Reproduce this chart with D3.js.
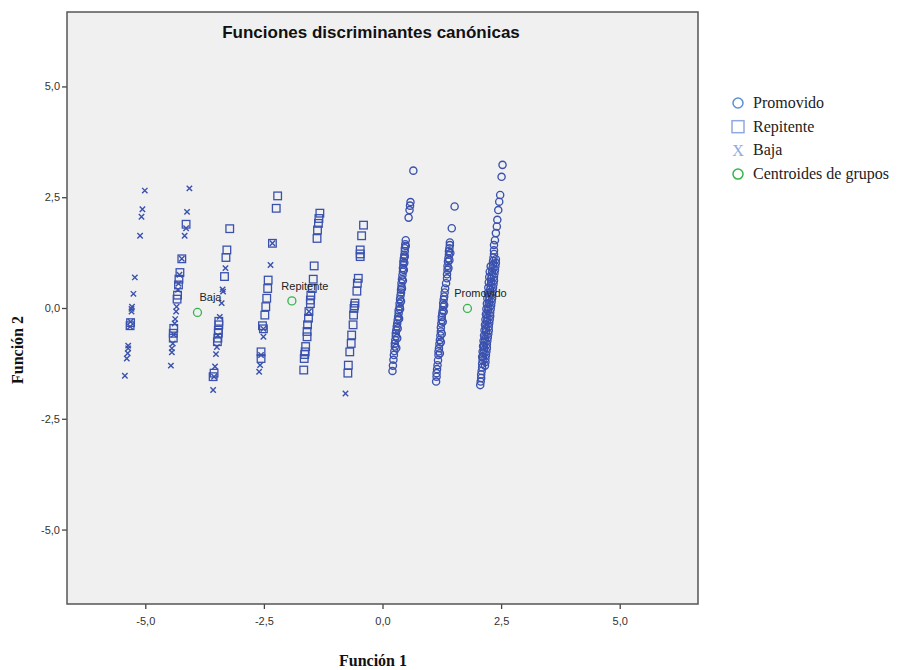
<!DOCTYPE html>
<html>
<head>
<meta charset="utf-8">
<script src="https://cdn.jsdelivr.net/npm/d3@7"></script>
<style>
  body { margin: 0; background: #fff; }
  svg { display: block; }
</style>
</head>
<body>
<div id="chart"></div>
<script>
// Dimensions
var W = 904, H = 670;
var frame = {left: 67, top: 12, right: 698, bottom: 604};

// Axes
var xTicks = [-5, -2.5, 0, 2.5, 5];
var yTicks = [-5, -2.5, 0, 2.5, 5];

// Données (Función 1, Función 2)
// Promovido -> cercles
var promovido = [
  [0.21,-1.42],[0.22,-1.30],[0.23,-1.17],[0.24,-1.06],[0.25,-0.97],[0.26,-0.87],[0.26,-0.80],[0.27,-0.72],
  [0.28,-0.64],[0.28,-0.57],[0.29,-0.50],[0.30,-0.42],[0.31,-0.35],[0.32,-0.27],[0.33,-0.20],[0.34,-0.12],
  [0.34,-0.05],[0.36,0.03],[0.36,0.10],[0.37,0.20],[0.38,0.28],[0.39,0.35],[0.39,0.41],[0.40,0.48],
  [0.40,0.56],[0.41,0.65],[0.42,0.74],[0.43,0.82],[0.43,0.90],[0.44,0.98],[0.44,1.05],[0.45,1.12],
  [0.46,1.20],[0.47,1.28],[0.47,1.35],[0.48,1.44],[0.49,1.53],[0.55,2.04],[0.57,2.21],[0.58,2.31],
  [0.59,2.39],[0.65,3.10],
  [0.29,-0.90],[0.31,-0.68],[0.32,-0.46],[0.35,-0.24],[0.37,-0.02],[0.39,0.15],[0.41,0.44],[0.43,0.62],
  [0.45,0.86],[0.46,1.02],[0.47,1.16],[0.49,1.40],
  [1.13,-1.66],[1.14,-1.55],[1.14,-1.47],[1.15,-1.38],[1.16,-1.29],[1.17,-1.18],[1.18,-1.06],[1.18,-0.98],
  [1.19,-0.91],[1.20,-0.81],[1.21,-0.72],[1.22,-0.62],[1.23,-0.53],[1.23,-0.44],[1.24,-0.35],[1.25,-0.27],
  [1.25,-0.20],[1.26,-0.12],[1.27,-0.05],[1.28,0.03],[1.28,0.11],[1.29,0.19],[1.30,0.26],[1.31,0.35],
  [1.32,0.44],[1.34,0.56],[1.36,0.67],[1.36,0.76],[1.37,0.86],[1.37,0.95],[1.38,1.05],[1.39,1.12],
  [1.40,1.20],[1.40,1.28],[1.41,1.35],[1.42,1.42],[1.42,1.48],[1.46,1.80],[1.52,2.29],
  [1.21,-1.02],[1.23,-0.77],[1.25,-0.58],[1.27,-0.31],[1.29,-0.08],[1.30,0.07],[1.39,0.90],[1.41,1.08],
  [1.43,1.24],
  [2.06,-1.74],[2.07,-1.66],[2.08,-1.58],[2.08,-1.50],[2.09,-1.42],[2.10,-1.34],[2.10,-1.26],[2.11,-1.18],
  [2.12,-1.10],[2.13,-1.02],[2.14,-0.94],[2.14,-0.86],[2.15,-0.78],[2.16,-0.70],[2.17,-0.62],[2.18,-0.54],
  [2.18,-0.46],[2.19,-0.38],[2.20,-0.30],[2.21,-0.22],[2.21,-0.14],[2.22,-0.06],[2.23,0.02],[2.24,0.10],
  [2.25,0.18],[2.25,0.26],[2.26,0.34],[2.27,0.42],[2.28,0.50],[2.29,0.58],[2.29,0.66],[2.30,0.74],
  [2.31,0.82],[2.32,0.90],[2.33,0.98],[2.33,1.06],[2.34,1.14],[2.35,1.22],[2.35,1.30],
  [2.16,-1.30],[2.17,-1.22],[2.17,-1.14],[2.18,-1.06],[2.19,-0.98],[2.20,-0.90],[2.20,-0.82],[2.21,-0.74],
  [2.22,-0.66],[2.23,-0.58],[2.24,-0.50],[2.24,-0.42],[2.25,-0.34],[2.26,-0.26],[2.27,-0.18],[2.27,-0.10],
  [2.28,-0.02],[2.29,0.06],[2.30,0.14],[2.31,0.22],[2.31,0.30],[2.32,0.38],[2.33,0.46],[2.34,0.54],
  [2.35,0.62],[2.35,0.70],[2.36,0.78],[2.37,0.86],[2.38,0.94],[2.39,1.02],[2.39,1.10],
  [2.10,-1.10],[2.11,-0.98],[2.12,-0.86],[2.13,-0.74],[2.14,-0.62],[2.15,-0.50],[2.16,-0.38],[2.17,-0.26],
  [2.18,-0.14],[2.19,-0.02],[2.20,0.10],[2.21,0.22],[2.22,0.34],[2.23,0.46],[2.24,0.58],[2.25,0.70],
  [2.26,0.82],[2.28,0.94],
  [2.35,1.42],[2.37,1.53],[2.39,1.69],[2.41,1.84],[2.42,1.99],[2.44,2.21],[2.46,2.40],[2.48,2.55],
  [2.51,2.96],[2.53,3.23]
];

// Repitente -> carrés
var repitente = [
  [-5.32,-0.40],[-5.31,-0.33],
  [-4.14,1.89],[-4.23,1.11],[-4.27,0.80],[-4.29,0.65],[-4.30,0.52],[-4.32,0.29],[-4.33,0.20],
  [-4.40,-0.46],[-4.41,-0.57],[-4.41,-0.68],
  [-3.22,1.79],[-3.28,1.31],[-3.30,1.14],[-3.33,0.71],[-3.45,-0.30],[-3.45,-0.38],[-3.46,-0.50],
  [-3.46,-0.57],[-3.47,-0.68],[-3.48,-0.76],[-3.55,-1.47],[-3.57,-1.55],
  [-2.21,2.53],[-2.24,2.25],[-2.32,1.46],[-2.41,0.63],[-2.42,0.44],[-2.44,0.22],[-2.46,0.03],
  [-2.48,-0.16],[-2.51,-0.47],[-2.53,-0.40],[-2.56,-0.99],[-2.56,-1.14],
  [-1.32,2.14],[-1.34,2.02],[-1.35,1.91],[-1.37,1.76],[-1.38,1.57],[-1.44,0.95],[-1.46,0.65],
  [-1.48,0.44],[-1.51,0.29],[-1.52,0.18],[-1.52,0.10],[-1.55,-0.08],[-1.56,-0.23],[-1.58,-0.38],
  [-1.59,-0.53],[-1.59,-0.65],[-1.62,-0.87],[-1.63,-0.99],[-1.64,-1.05],[-1.65,-1.14],[-1.66,-1.40],
  [-0.40,1.87],[-0.44,1.63],[-0.47,1.31],[-0.47,1.22],[-0.47,1.16],[-0.51,0.67],[-0.53,0.56],
  [-0.54,0.38],[-0.58,0.11],[-0.59,0.05],[-0.60,-0.01],[-0.61,-0.16],[-0.62,-0.38],[-0.65,-0.61],
  [-0.66,-0.80],[-0.69,-0.99],[-0.72,-1.29],[-0.73,-1.47]
];

// Baja -> croix
var baja = [
  [-5.01,2.65],[-5.06,2.23],[-5.08,2.06],[-5.11,1.63],[-5.22,0.69],[-5.25,0.32],[-5.28,0.03],
  [-5.29,-0.02],[-5.29,-0.08],[-5.31,-0.31],[-5.32,-0.42],[-5.36,-0.85],[-5.36,-0.91],[-5.37,-1.02],
  [-5.39,-1.14],[-5.43,-1.53],
  [-4.07,2.70],[-4.12,2.17],[-4.14,1.80],[-4.17,1.63],[-4.23,1.11],[-4.28,0.75],[-4.30,0.55],
  [-4.31,0.41],[-4.34,0.03],[-4.35,-0.08],[-4.37,-0.25],[-4.38,-0.35],[-4.40,-0.60],[-4.42,-0.80],
  [-4.44,-0.91],[-4.44,-1.00],[-4.46,-1.30],
  [-3.31,0.90],[-3.36,0.37],[-3.37,0.42],[-3.39,0.11],[-3.43,-0.20],[-3.47,-0.62],[-3.49,-0.88],
  [-3.51,-1.04],[-3.53,-1.32],[-3.55,-1.55],[-3.57,-1.85],
  [-2.32,1.46],[-2.36,0.97],[-2.51,-0.47],[-2.51,-0.65],[-2.56,-1.06],[-2.58,-1.29],[-2.60,-1.44],
  [-1.55,-0.08],
  [-0.78,-1.93]
];

// Centroides
var centroidNames = ["Baja", "Repitente", "Promovido"];
var centroidX = [-3.90, -1.91, 1.79];
var centroidY = [-0.10, 0.16, -0.01];

// Légende
var legendLabels = ["Promovido", "Repitente", "Baja", "Centroides de grupos"];

// Couleurs
var pointColor = "#3a51ae";
var centroidColor = "#33b54c";

var svg = d3.select("#chart").append("svg")
  .attr("width", W).attr("height", H);

var x = d3.scaleLinear().domain([-6.65, 6.65]).range([frame.left, frame.right]);
var y = d3.scaleLinear().domain([-6.68, 6.68]).range([frame.bottom, frame.top]);

// Fond du graphique
svg.append("rect")
  .attr("x", frame.left).attr("y", frame.top)
  .attr("width", frame.right - frame.left).attr("height", frame.bottom - frame.top)
  .attr("fill", "#f0f0f0");

function fmt(d) { return d.toFixed(1).replace(".", ","); }

var xAxis = svg.append("g")
  .attr("transform", "translate(0," + frame.bottom + ")")
  .call(d3.axisBottom(x).tickValues(xTicks).tickFormat(fmt).tickSize(5).tickSizeOuter(0).tickPadding(8));
var yAxis = svg.append("g")
  .attr("transform", "translate(" + frame.left + ",0)")
  .call(d3.axisLeft(y).tickValues(yTicks).tickFormat(fmt).tickSize(5).tickSizeOuter(0).tickPadding(2));

[xAxis, yAxis].forEach(function(g) {
  g.select(".domain").remove();
  g.selectAll(".tick line").attr("stroke", "#444").attr("stroke-width", 1.3);
  g.selectAll(".tick text")
    .attr("fill", "#333")
    .style("font-family", "'Liberation Sans', Arial, sans-serif")
    .style("font-size", "11px");
});

// Cadre
svg.append("rect")
  .attr("x", frame.left).attr("y", frame.top)
  .attr("width", frame.right - frame.left).attr("height", frame.bottom - frame.top)
  .attr("fill", "none").attr("stroke", "#555").attr("stroke-width", 1.5);

// Titre
svg.append("text")
  .attr("x", 371).attr("y", 38)
  .attr("text-anchor", "middle")
  .style("font-family", "'Liberation Sans', Arial, sans-serif")
  .style("font-size", "17px").style("font-weight", "bold")
  .attr("fill", "#111")
  .text("Funciones discriminantes canónicas");

// Titres des axes
svg.append("text")
  .attr("x", 373).attr("y", 666)
  .attr("text-anchor", "middle")
  .style("font-family", "'Liberation Serif', 'Times New Roman', serif")
  .style("font-size", "16px").style("font-weight", "bold")
  .attr("fill", "#111")
  .text("Función 1");
svg.append("text")
  .attr("transform", "translate(23,350) rotate(-90)")
  .attr("text-anchor", "middle")
  .style("font-family", "'Liberation Serif', 'Times New Roman', serif")
  .style("font-size", "16px").style("font-weight", "bold")
  .attr("fill", "#111")
  .text("Función 2");

var plot = svg.append("g");

// Carrés
plot.selectAll(".sq").data(repitente).enter().append("rect")
  .attr("class", "sq")
  .attr("x", function(d) { return x(d[0]) - 3.8; })
  .attr("y", function(d) { return y(d[1]) - 3.8; })
  .attr("width", 7.6).attr("height", 7.6)
  .attr("fill", "none").attr("stroke", pointColor).attr("stroke-width", 1.3);

// Croix
plot.selectAll(".cross").data(baja).enter().append("path")
  .attr("class", "cross")
  .attr("d", function(d) {
    var cx = x(d[0]), cy = y(d[1]), s = 2.7;
    return "M" + (cx - s) + "," + (cy - s) + "L" + (cx + s) + "," + (cy + s) +
           "M" + (cx - s) + "," + (cy + s) + "L" + (cx + s) + "," + (cy - s);
  })
  .attr("stroke", pointColor).attr("stroke-width", 1.4).attr("fill", "none");

// Cercles
plot.selectAll(".circ").data(promovido).enter().append("circle")
  .attr("class", "circ")
  .attr("cx", function(d) { return x(d[0]); })
  .attr("cy", function(d) { return y(d[1]); })
  .attr("r", 3.6)
  .attr("fill", "none").attr("stroke", pointColor).attr("stroke-width", 1.35);

// Centroides
centroidNames.forEach(function(name, i) {
  var cx = x(centroidX[i]), cy = y(centroidY[i]);
  plot.append("circle")
    .attr("cx", cx).attr("cy", cy).attr("r", 4)
    .attr("fill", "none").attr("stroke", centroidColor).attr("stroke-width", 1.3);
  plot.append("text")
    .attr("x", cx + 13).attr("y", cy - 11)
    .attr("text-anchor", "middle")
    .style("font-family", "'Liberation Sans', Arial, sans-serif")
    .style("font-size", "11px")
    .attr("fill", "#222")
    .text(name);
});

// Légende
var legend = svg.append("g").attr("transform", "translate(738,103)");
legendLabels.forEach(function(label, i) {
  var row = legend.append("g").attr("transform", "translate(0," + (i * 23.7) + ")");
  if (i === 0 || i === 3) {
    row.append("circle").attr("r", 5)
      .attr("fill", "none")
      .attr("stroke", i === 0 ? "#5b8fd6" : centroidColor)
      .attr("stroke-width", 1.5);
  } else if (i === 1) {
    row.append("rect").attr("x", -6).attr("y", -6).attr("width", 12).attr("height", 12)
      .attr("fill", "none").attr("stroke", "#8eaae0").attr("stroke-width", 1.5);
  } else {
    row.append("text").attr("x", 0).attr("y", 5.5)
      .attr("text-anchor", "middle")
      .style("font-family", "'Liberation Serif', 'Times New Roman', serif")
      .style("font-size", "16px")
      .attr("fill", "#8eaae0")
      .text("X");
  }
  row.append("text")
    .attr("x", 15).attr("y", 5)
    .style("font-family", "'Liberation Serif', 'Times New Roman', serif")
    .style("font-size", "16px")
    .attr("fill", "#222")
    .text(label);
});
</script>
</body>
</html>
